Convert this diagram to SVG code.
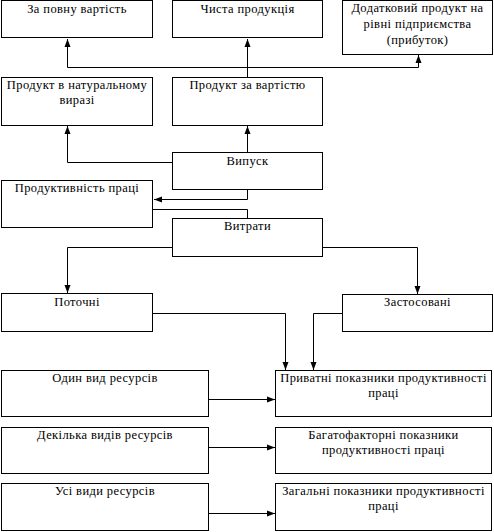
<svg xmlns="http://www.w3.org/2000/svg" width="494" height="532" viewBox="0 0 494 532">
<defs>
<marker id="ah" viewBox="0 0 8 8" refX="8" refY="4" markerWidth="8" markerHeight="8" markerUnits="userSpaceOnUse" orient="auto">
<path d="M0,1 L8,4 L0,7 Z" fill="#000"/>
</marker>
<style>
.box{fill:#fff;stroke:#000;stroke-width:1}
text{font-family:"Times New Roman","Liberation Serif",serif;font-size:12.5px;fill:#000;text-anchor:middle;letter-spacing:0.4px}
.c{fill:none;stroke:#000;stroke-width:1}
</style>
</defs>
<rect width="494" height="532" fill="#fff"/>
<g id="connectors">
<path class="c" d="M247.5,77 V67.5 H67.5 V39" marker-end="url(#ah)"/>
<path class="c" d="M247.5,67.5 H418.5 V55" marker-end="url(#ah)"/>
<path class="c" d="M247.5,77 V39" marker-end="url(#ah)"/>
<path class="c" d="M172,162.5 H67.5 V126" marker-end="url(#ah)"/>
<path class="c" d="M247.5,152 V126" marker-end="url(#ah)"/>
<path class="c" d="M247.5,190 V199.5 H154" marker-end="url(#ah)"/>
<path class="c" d="M153,209.5 H247.5 V218"/>
<path class="c" d="M172,247.5 H67.5 V293" marker-end="url(#ah)"/>
<path class="c" d="M323,247.5 H417.5 V294" marker-end="url(#ah)"/>
<path class="c" d="M153,313.5 H285.5 V370" marker-end="url(#ah)"/>
<path class="c" d="M342,313.5 H313.5 V370" marker-end="url(#ah)"/>
<path class="c" d="M209,399.5 H275" marker-end="url(#ah)"/>
<path class="c" d="M209,447.5 H275" marker-end="url(#ah)"/>
<path class="c" d="M209,513.5 H275" marker-end="url(#ah)"/>
</g>
<g id="n1"><rect class="box" x="1.5" y="0.5" width="151" height="37"/><text x="77" y="13">За повну вартість</text></g>
<g id="n2"><rect class="box" x="172.5" y="0.5" width="150" height="37"/><text x="247.5" y="13">Чиста продукція</text></g>
<g id="n3"><rect class="box" x="342.5" y="0.5" width="150" height="54"/><text x="417.5" y="12">Додатковий продукт на</text><text x="417.5" y="28">рівні підприємства</text><text x="417.5" y="44">(прибуток)</text></g>
<g id="n4"><rect class="box" x="1.5" y="77.5" width="151" height="48"/><text x="77" y="89">Продукт в натуральному</text><text x="77" y="104">виразі</text></g>
<g id="n5"><rect class="box" x="172.5" y="77.5" width="150" height="48"/><text x="247.5" y="89">Продукт за вартістю</text></g>
<g id="n6"><rect class="box" x="172.5" y="152.5" width="150" height="37"/><text x="247.5" y="165">Випуск</text></g>
<g id="n7"><rect class="box" x="1.5" y="180.5" width="151" height="47"/><text x="77" y="192">Продуктивність праці</text></g>
<g id="n8"><rect class="box" x="172.5" y="218.5" width="150" height="38"/><text x="247.5" y="230">Витрати</text></g>
<g id="n9"><rect class="box" x="1.5" y="293.5" width="151" height="38"/><text x="77" y="306">Поточні</text></g>
<g id="n10"><rect class="box" x="342.5" y="294.5" width="150" height="37"/><text x="417.5" y="306">Застосовані</text></g>
<g id="n11"><rect class="box" x="1.5" y="370.5" width="207" height="46"/><text x="105" y="382">Один вид ресурсів</text></g>
<g id="n12"><rect class="box" x="275.5" y="370.5" width="216" height="46"/><text x="383.5" y="382">Приватні показники продуктивності</text><text x="383.5" y="397">праці</text></g>
<g id="n13"><rect class="box" x="1.5" y="427.5" width="207" height="46"/><text x="105" y="439">Декілька видів ресурсів</text></g>
<g id="n14"><rect class="box" x="275.5" y="427.5" width="216" height="46"/><text x="383.5" y="439">Багатофакторні показники</text><text x="383.5" y="454">продуктивності праці</text></g>
<g id="n15"><rect class="box" x="1.5" y="483.5" width="207" height="47"/><text x="105" y="495">Усі види ресурсів</text></g>
<g id="n16"><rect class="box" x="275.5" y="483.5" width="216" height="47"/><text x="383.5" y="495">Загальні показники продуктивності</text><text x="383.5" y="510">праці</text></g>
</svg>
